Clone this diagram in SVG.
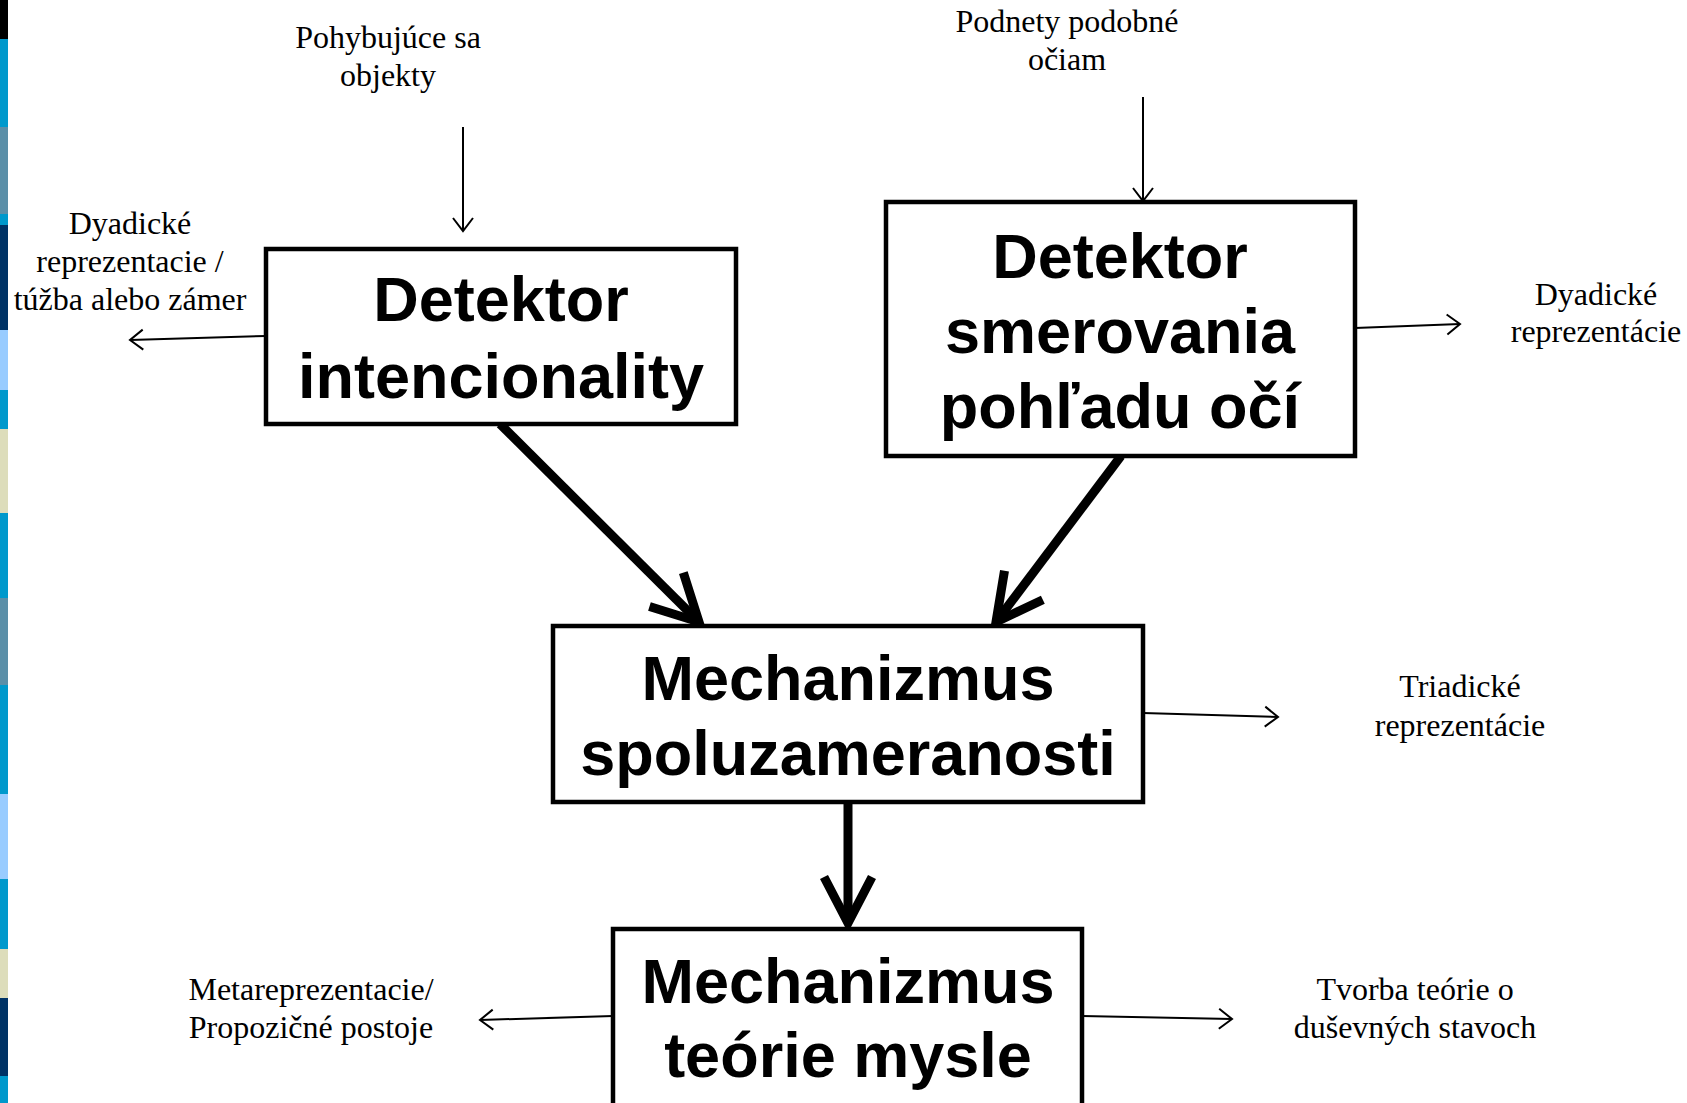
<svg xmlns="http://www.w3.org/2000/svg" width="1687" height="1103" viewBox="0 0 1687 1103">
<defs>
<style>
.box{fill:#fff;stroke:#000;stroke-width:4.5}
.big{font-family:"Liberation Sans",Arial,sans-serif;font-weight:bold;font-size:63px;text-anchor:middle;fill:#000}
.lbl{font-family:"Liberation Serif","Times New Roman",serif;font-size:32px;text-anchor:middle;fill:#000}
.thin{stroke:#000;stroke-width:2;fill:none;marker-end:url(#ah)}
.thick{stroke:#000;stroke-width:9;fill:none;marker-end:url(#AH)}
</style>
<marker id="ah" markerUnits="userSpaceOnUse" markerWidth="30" markerHeight="30" viewBox="-20 -15 30 30" refX="0" refY="0" orient="auto">
<path d="M-13,-10 L0,0 L-13,10" fill="none" stroke="#000" stroke-width="2"/>
</marker>
<marker id="AH" markerUnits="userSpaceOnUse" markerWidth="80" markerHeight="80" viewBox="-60 -40 80 80" refX="0" refY="0" orient="auto">
<path d="M-46,-24 L0,0 L-46,24" fill="none" stroke="#000" stroke-width="9" stroke-linejoin="miter"/>
</marker>
</defs>
<rect width="1687" height="1103" fill="#fff"/>
<g id="stripe">
<rect x="0" y="0" width="8" height="1103" fill="#0099cc"/>
<rect x="0" y="0" width="8" height="39" fill="#000"/>
<rect x="0" y="127" width="8" height="87" fill="#5b8fa8"/>
<rect x="0" y="225" width="8" height="105" fill="#003366"/>
<rect x="0" y="330" width="8" height="60" fill="#99ccff"/>
<rect x="0" y="429" width="8" height="84" fill="#ddddbb"/>
<rect x="0" y="598" width="8" height="87" fill="#5b8fa8"/>
<rect x="0" y="794" width="8" height="85" fill="#99ccff"/>
<rect x="0" y="949" width="8" height="49" fill="#ddddbb"/>
<rect x="0" y="998" width="8" height="78" fill="#003366"/>
</g>
<g id="connectors">
<line class="thin" x1="463" y1="127" x2="463" y2="231"/>
<line class="thin" x1="1143" y1="97" x2="1143" y2="201"/>
<line class="thin" x1="266" y1="336" x2="130" y2="340"/>
<line class="thin" x1="1355" y1="328" x2="1460" y2="324"/>
<line class="thin" x1="1143" y1="713" x2="1278" y2="717"/>
<line class="thin" x1="613" y1="1016" x2="480" y2="1020"/>
<line class="thin" x1="1082" y1="1016" x2="1232" y2="1019"/>
<line class="thick" x1="500" y1="424" x2="699" y2="622"/>
<line class="thick" x1="1121" y1="456" x2="996" y2="622"/>
<line class="thick" x1="848" y1="802" x2="848" y2="923"/>
</g>
<g id="n1">
<rect class="box" x="266" y="249" width="470" height="175"/>
<text class="big" x="501" y="321">Detektor</text>
<text class="big" x="501" y="398">intencionality</text>
</g>
<g id="n2">
<rect class="box" x="886" y="202" width="469" height="254"/>
<text class="big" x="1120" y="278">Detektor</text>
<text class="big" x="1120" y="353">smerovania</text>
<text class="big" x="1120" y="428">pohľadu očí</text>
</g>
<g id="n3">
<rect class="box" x="553" y="626" width="590" height="176"/>
<text class="big" x="848" y="700">Mechanizmus</text>
<text class="big" x="848" y="775">spoluzameranosti</text>
</g>
<g id="n4">
<rect class="box" x="613" y="929" width="469" height="180"/>
<text class="big" x="848" y="1003">Mechanizmus</text>
<text class="big" x="848" y="1077">teórie mysle</text>
</g>
<g id="labels">
<text class="lbl" x="388" y="48">Pohybujúce sa</text>
<text class="lbl" x="388" y="86">objekty</text>
<text class="lbl" x="1067" y="32">Podnety podobné</text>
<text class="lbl" x="1067" y="70">očiam</text>
<text class="lbl" x="130" y="234">Dyadické</text>
<text class="lbl" x="130" y="272">reprezentacie /</text>
<text class="lbl" x="130" y="310">túžba alebo zámer</text>
<text class="lbl" x="1596" y="305">Dyadické</text>
<text class="lbl" x="1596" y="342">reprezentácie</text>
<text class="lbl" x="1460" y="697">Triadické</text>
<text class="lbl" x="1460" y="736">reprezentácie</text>
<text class="lbl" x="311" y="1000">Metareprezentacie/</text>
<text class="lbl" x="311" y="1038">Propozičné postoje</text>
<text class="lbl" x="1415" y="1000">Tvorba teórie o</text>
<text class="lbl" x="1415" y="1038">duševných stavoch</text>
</g>
</svg>
